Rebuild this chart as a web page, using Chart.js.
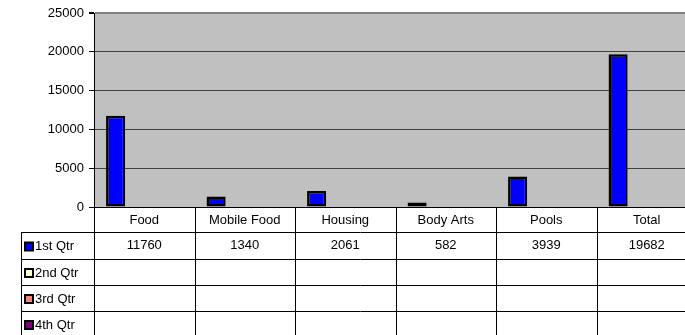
<!DOCTYPE html>
<html>
<head>
<meta charset="utf-8">
<script src="https://cdn.jsdelivr.net/npm/chart.js@4/dist/chart.umd.min.js"></script>
<style>
  html, body { margin: 0; padding: 0; background: #fff; overflow: hidden; }
  #wrap { position: relative; width: 700px; height: 335px; }
</style>
</head>
<body>
<div id="wrap"><canvas id="chart"></canvas></div>
<script>
const categories = ['Food', 'Mobile Food', 'Housing', 'Body Arts', 'Pools', 'Total'];
const qtr1 = [11760, 1340, 2061, 582, 3939, 19682];
const qtr2 = [null, null, null, null, null, null];
const qtr3 = [null, null, null, null, null, null];
const qtr4 = [null, null, null, null, null, null];
const seriesNames = ['1st Qtr', '2nd Qtr', '3rd Qtr', '4th Qtr'];
const seriesColors = ['#0000ff', '#ffffcc', '#ff8080', '#800080'];
const yMax = 25000;
const yStep = 5000;

const FONT = "'Liberation Sans', Arial, sans-serif";
const FSIZE = 13;

// grey plot background like the old Excel charts
const plotBg = {
    id: 'plotBg',
    beforeDraw(chart) {
        const { ctx, chartArea: a } = chart;
        ctx.save();
        ctx.fillStyle = '#c0c0c0';
        ctx.fillRect(a.left, a.top, a.right - a.left, a.bottom - a.top);
        ctx.restore();
    }
};

// data table under the plot
const dataTable = {
    id: 'dataTable',
    afterDraw(chart) {
        const { ctx, chartArea: a } = chart;
        const x = chart.scales.x;
        const colW = (x.right - x.left) / categories.length;
        const top = a.bottom;
        const rowY = [top, top + 25, top + 52, top + 78, top + 104, top + 130];
        const legendLeft = 21;
        const right = chart.width;

        ctx.save();
        ctx.strokeStyle = '#000';
        ctx.lineWidth = 1;

        // horizontal lines
        ctx.beginPath();
        ctx.moveTo(a.left - 4, top + 0.5);
        ctx.lineTo(right, top + 0.5);
        for (let r = 1; r < rowY.length - 1; r++) {
            ctx.moveTo(legendLeft, rowY[r] + 0.5);
            ctx.lineTo(right, rowY[r] + 0.5);
        }
        // vertical lines
        ctx.moveTo(legendLeft + 0.5, rowY[1]);
        ctx.lineTo(legendLeft + 0.5, chart.height);
        for (let i = 0; i <= categories.length; i++) {
            const px = Math.round(x.left + i * colW) + 0.5;
            ctx.moveTo(px, top);
            ctx.lineTo(px, chart.height);
        }
        ctx.stroke();

        ctx.font = FSIZE + 'px ' + FONT;
        ctx.fillStyle = '#000';
        ctx.textBaseline = 'middle';
        ctx.textAlign = 'center';

        // category header
        categories.forEach((c, i) => {
            ctx.fillText(c, x.getPixelForValue(i), (rowY[0] + rowY[1]) / 2 + 1);
        });

        // series rows
        chart.data.datasets.forEach((ds, r) => {
            const cy = (rowY[r + 1] + rowY[r + 2]) / 2 + 1;
            ctx.textAlign = 'center';
            ds.data.forEach((v, i) => {
                if (v !== null) ctx.fillText(String(v), x.getPixelForValue(i), cy - 1);
            });
            // legend key
            ctx.fillStyle = '#000';
            ctx.fillRect(24, cy - 5, 10, 10);
            ctx.fillStyle = ds.backgroundColor;
            ctx.fillRect(26, cy - 3, 6, 6);
            ctx.fillStyle = '#000';
            ctx.textAlign = 'left';
            ctx.fillText(ds.label, 35, cy);
        });
        ctx.restore();
    }
};

const seriesData = [qtr1, qtr2, qtr3, qtr4];

new Chart(document.getElementById('chart'), {
    type: 'bar',
    data: {
        labels: categories,
        datasets: seriesNames.map((name, i) => ({
            label: name,
            data: seriesData[i],
            backgroundColor: seriesColors[i],
            borderColor: '#000',
            borderWidth: 2.5,
            borderSkipped: false,
            categoryPercentage: 0.76,
            barPercentage: 1.0
        }))
    },
    options: {
        responsive: true,
        maintainAspectRatio: false,
        animation: false,
        layout: { padding: { top: 13, bottom: 128, left: 0, right: 3 } },
        plugins: {
            legend: { display: false },
            tooltip: { enabled: false }
        },
        scales: {
            x: {
                display: false,
                offset: true
            },
            y: {
                min: 0,
                max: yMax,
                afterFit: s => { s.width = 94; },
                ticks: {
                    stepSize: yStep,
                    padding: 5,
                    color: '#000',
                    font: { family: FONT, size: FSIZE },
                    callback: v => String(v)
                },
                grid: {
                    color: c => c.tick && c.tick.value === yMax ? '#808080' : '#404040',
                    lineWidth: c => c.tick && c.tick.value === yMax ? 2 : 1,
                    tickColor: '#000',
                    tickLength: 5
                },
                border: { color: '#000', width: 1 }
            }
        }
    },
    plugins: [plotBg, dataTable]
});
</script>
</body>
</html>
